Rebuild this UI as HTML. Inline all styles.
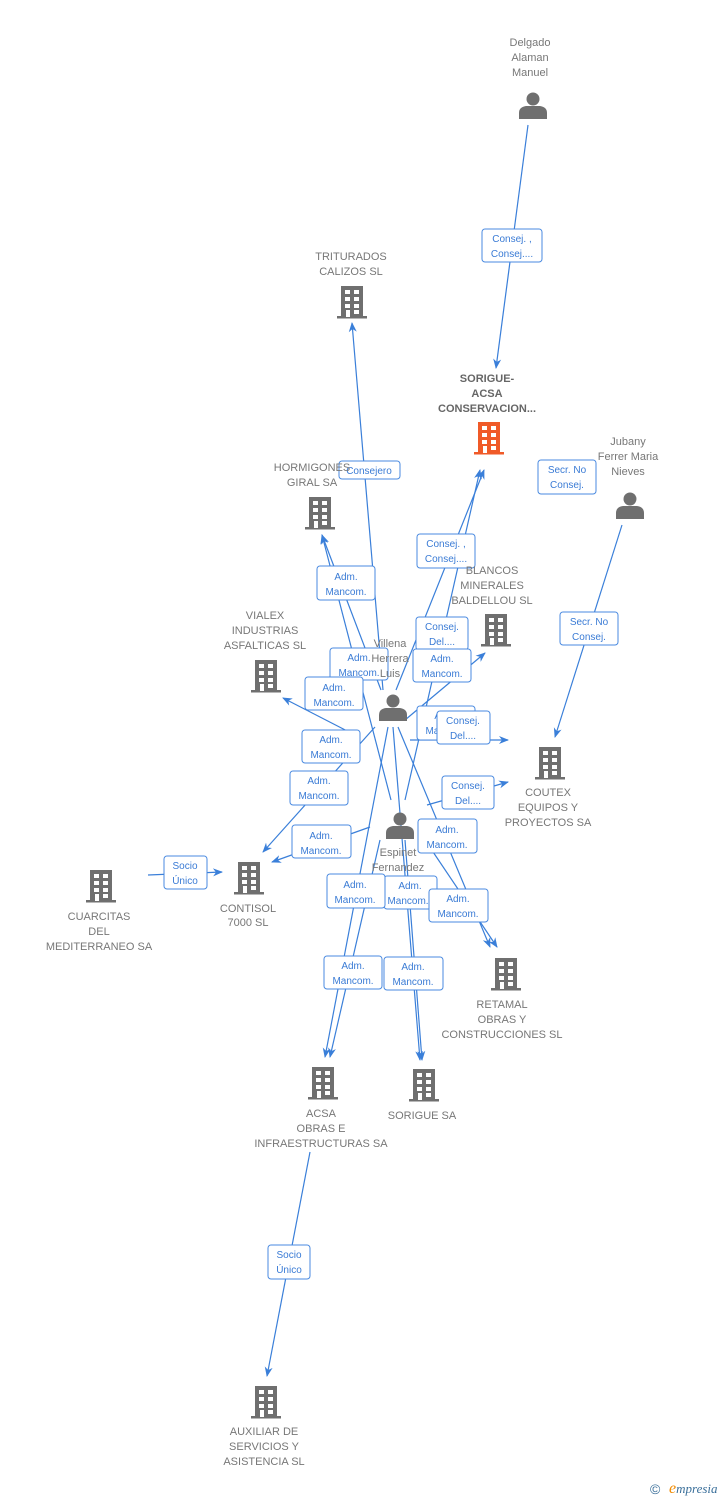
<!DOCTYPE html>
<html><head><meta charset="utf-8"><style>
html,body{margin:0;padding:0;background:#fff;}
svg{display:block;}
.t{font-family:"Liberation Sans",sans-serif;font-size:11px;fill:#777;text-anchor:middle;}
.b{font-weight:bold;fill:#666;}
.l{font-family:"Liberation Sans",sans-serif;font-size:10px;fill:#3a7bd5;text-anchor:middle;}
.e{stroke:#3a7fd9;stroke-width:1.2;fill:none;}
.bx{fill:#fff;stroke:#4a8ae0;stroke-width:1;}
</style></head><body>
<svg width="728" height="1500" viewBox="0 0 728 1500" xmlns="http://www.w3.org/2000/svg">
<defs>
<marker id="a" markerWidth="10" markerHeight="10" refX="9" refY="5" orient="auto" markerUnits="userSpaceOnUse">
<path d="M0,1 L10,5 L0,9 L3,5 z" fill="#3a7fd9"/></marker>
<g id="bld">
<rect x="-11" y="-16" width="22" height="31" fill="#6f6f6f"/>
<rect x="-15" y="14" width="30" height="2.5" fill="#6f6f6f"/>
<rect x="-7" y="-12" width="5" height="4" fill="#fff"/><rect x="2" y="-12" width="5" height="4" fill="#fff"/>
<rect x="-7" y="-5" width="5" height="4" fill="#fff"/><rect x="2" y="-5" width="5" height="4" fill="#fff"/>
<rect x="-7" y="2" width="5" height="4" fill="#fff"/><rect x="2" y="2" width="5" height="4" fill="#fff"/>
<rect x="-6" y="8" width="4" height="7" fill="#fff"/><rect x="2" y="8" width="5" height="4" fill="#fff"/>
</g>
<g id="per">
<circle cx="0" cy="-6" r="6.5" fill="#6f6f6f"/>
<path d="M-14,14 L-14,8 Q-14,2 -7,1 L7,1 Q14,2 14,8 L14,14 z" fill="#6f6f6f"/>
</g>
</defs>

<!-- edges -->
<path class="e" d="M528,125 L496,368" marker-end="url(#a)"/>
<path class="e" d="M383,690 L352,323" marker-end="url(#a)"/>
<path class="e" d="M622,525 L555,737" marker-end="url(#a)"/>
<path class="e" d="M405,800 L480,470" marker-end="url(#a)"/>
<path class="e" d="M396,690 L484,470" marker-end="url(#a)"/>
<path class="e" d="M381,690 L322,535" marker-end="url(#a)"/>
<path class="e" d="M391,800 L322,535" marker-end="url(#a)"/>
<path class="e" d="M405,720 L485,653" marker-end="url(#a)"/>
<path class="e" d="M355,735 L283,698" marker-end="url(#a)"/>
<path class="e" d="M375,727 L263,852" marker-end="url(#a)"/>
<path class="e" d="M370,827 L272,862" marker-end="url(#a)"/>
<path class="e" d="M410,740 L508,740" marker-end="url(#a)"/>
<path class="e" d="M427,805 L508,782" marker-end="url(#a)"/>
<path class="e" d="M398,727 L490,947" marker-end="url(#a)"/>
<path class="e" d="M425,840 L497,947" marker-end="url(#a)"/>
<path class="e" d="M388,727 L325,1057" marker-end="url(#a)"/>
<path class="e" d="M380,840 L330,1057" marker-end="url(#a)"/>
<path class="e" d="M393,727 L420,1060" marker-end="url(#a)"/>
<path class="e" d="M405,840 L422,1060" marker-end="url(#a)"/>
<path class="e" d="M148,875 L222,872" marker-end="url(#a)"/>
<path class="e" d="M310,1152 L267,1376" marker-end="url(#a)"/>

<!-- label boxes -->
<g>
<rect class="bx" x="482" y="229" width="60" height="33" rx="3"/><text class="l" x="512" y="242">Consej. ,</text><text class="l" x="512" y="257">Consej....</text>
<rect class="bx" x="339" y="461" width="61" height="18" rx="3"/><text class="l" x="369" y="474">Consejero</text>
<rect class="bx" x="538" y="460" width="58" height="34" rx="3"/><text class="l" x="567" y="473">Secr.  No</text><text class="l" x="567" y="488">Consej.</text>
<rect class="bx" x="560" y="612" width="58" height="33" rx="3"/><text class="l" x="589" y="625">Secr.  No</text><text class="l" x="589" y="640">Consej.</text>
<rect class="bx" x="417" y="534" width="58" height="34" rx="3"/><text class="l" x="446" y="547">Consej. ,</text><text class="l" x="446" y="562">Consej....</text>
<rect class="bx" x="317" y="566" width="58" height="34" rx="3"/><text class="l" x="346" y="580">Adm.</text><text class="l" x="346" y="595">Mancom.</text>
<rect class="bx" x="416" y="617" width="52" height="33" rx="3"/><text class="l" x="442" y="630">Consej.</text><text class="l" x="442" y="645">Del....</text>
<rect class="bx" x="330" y="648" width="58" height="32" rx="3"/><text class="l" x="359" y="661">Adm.</text><text class="l" x="359" y="676">Mancom.</text>
<rect class="bx" x="413" y="649" width="58" height="33" rx="3"/><text class="l" x="442" y="662">Adm.</text><text class="l" x="442" y="677">Mancom.</text>
<rect class="bx" x="305" y="677" width="58" height="33" rx="3"/><text class="l" x="334" y="691">Adm.</text><text class="l" x="334" y="706">Mancom.</text>
<rect class="bx" x="417" y="706" width="58" height="34" rx="3"/><text class="l" x="446" y="719">Adm.</text><text class="l" x="446" y="734">Mancom.</text>
<rect class="bx" x="437" y="711" width="53" height="33" rx="3"/><text class="l" x="463" y="724">Consej.</text><text class="l" x="463" y="739">Del....</text>
<rect class="bx" x="302" y="730" width="58" height="33" rx="3"/><text class="l" x="331" y="743">Adm.</text><text class="l" x="331" y="758">Mancom.</text>
<rect class="bx" x="290" y="771" width="58" height="34" rx="3"/><text class="l" x="319" y="784">Adm.</text><text class="l" x="319" y="799">Mancom.</text>
<rect class="bx" x="442" y="776" width="52" height="33" rx="3"/><text class="l" x="468" y="789">Consej.</text><text class="l" x="468" y="804">Del....</text>
<rect class="bx" x="418" y="819" width="59" height="34" rx="3"/><text class="l" x="447" y="833">Adm.</text><text class="l" x="447" y="848">Mancom.</text>
<rect class="bx" x="292" y="825" width="59" height="33" rx="3"/><text class="l" x="321" y="839">Adm.</text><text class="l" x="321" y="854">Mancom.</text>
<rect class="bx" x="384" y="876" width="53" height="33" rx="3"/><text class="l" x="410" y="889">Adm.</text><text class="l" x="408" y="904">Mancom.</text>
<rect class="bx" x="327" y="874" width="58" height="34" rx="3"/><text class="l" x="355" y="888">Adm.</text><text class="l" x="355" y="903">Mancom.</text>
<rect class="bx" x="429" y="889" width="59" height="33" rx="3"/><text class="l" x="458" y="902">Adm.</text><text class="l" x="458" y="917">Mancom.</text>
<rect class="bx" x="324" y="956" width="58" height="33" rx="3"/><text class="l" x="353" y="969">Adm.</text><text class="l" x="353" y="984">Mancom.</text>
<rect class="bx" x="384" y="957" width="59" height="33" rx="3"/><text class="l" x="413" y="970">Adm.</text><text class="l" x="413" y="985">Mancom.</text>
<rect class="bx" x="164" y="856" width="43" height="33" rx="3"/><text class="l" x="185" y="869">Socio</text><text class="l" x="185" y="884">Único</text>
<rect class="bx" x="268" y="1245" width="42" height="34" rx="3"/><text class="l" x="289" y="1258">Socio</text><text class="l" x="289" y="1273">Único</text>
</g>

<!-- nodes -->
<use href="#per" x="533" y="105"/>
<text class="t" x="530" y="46">Delgado</text><text class="t" x="530" y="61">Alaman</text><text class="t" x="530" y="76">Manuel</text>

<use href="#bld" x="352" y="302"/>
<text class="t" x="351" y="260">TRITURADOS</text><text class="t" x="351" y="275">CALIZOS SL</text>

<g transform="translate(489,438)"><rect x="-11" y="-16" width="22" height="31" fill="#f05a28"/><rect x="-15" y="14" width="30" height="2.5" fill="#f05a28"/>
<rect x="-7" y="-12" width="5" height="4" fill="#fff"/><rect x="2" y="-12" width="5" height="4" fill="#fff"/><rect x="-7" y="-5" width="5" height="4" fill="#fff"/><rect x="2" y="-5" width="5" height="4" fill="#fff"/><rect x="-7" y="2" width="5" height="4" fill="#fff"/><rect x="2" y="2" width="5" height="4" fill="#fff"/><rect x="-6" y="8" width="4" height="7" fill="#fff"/><rect x="2" y="8" width="5" height="4" fill="#fff"/></g>
<text class="t b" x="487" y="382">SORIGUE-</text><text class="t b" x="487" y="397">ACSA</text><text class="t b" x="487" y="412">CONSERVACION...</text>

<use href="#bld" x="320" y="513"/>
<text class="t" x="312" y="471">HORMIGONES</text><text class="t" x="312" y="486">GIRAL SA</text>

<use href="#per" x="630" y="505"/>
<text class="t" x="628" y="445">Jubany</text><text class="t" x="628" y="460">Ferrer Maria</text><text class="t" x="628" y="475">Nieves</text>

<use href="#bld" x="496" y="630"/>
<text class="t" x="492" y="574">BLANCOS</text><text class="t" x="492" y="589">MINERALES</text><text class="t" x="492" y="604">BALDELLOU SL</text>

<use href="#bld" x="266" y="676"/>
<text class="t" x="265" y="619">VIALEX</text><text class="t" x="265" y="634">INDUSTRIAS</text><text class="t" x="265" y="649">ASFALTICAS SL</text>

<use href="#per" x="393" y="707"/>
<text class="t" x="390" y="647">Villena</text><text class="t" x="390" y="662">Herrera</text><text class="t" x="390" y="677">Luis</text>

<use href="#bld" x="550" y="763"/>
<text class="t" x="548" y="796">COUTEX</text><text class="t" x="548" y="811">EQUIPOS Y</text><text class="t" x="548" y="826">PROYECTOS SA</text>

<use href="#per" x="400" y="825"/>
<text class="t" x="398" y="856">Espinet</text><text class="t" x="398" y="871">Fernandez</text>

<use href="#bld" x="249" y="878"/>
<text class="t" x="248" y="912">CONTISOL</text><text class="t" x="248" y="926">7000 SL</text>

<use href="#bld" x="101" y="886"/>
<text class="t" x="99" y="920">CUARCITAS</text><text class="t" x="99" y="935">DEL</text><text class="t" x="99" y="950">MEDITERRANEO SA</text>

<use href="#bld" x="506" y="974"/>
<text class="t" x="502" y="1008">RETAMAL</text><text class="t" x="502" y="1023">OBRAS Y</text><text class="t" x="502" y="1038">CONSTRUCCIONES SL</text>

<use href="#bld" x="323" y="1083"/>
<text class="t" x="321" y="1117">ACSA</text><text class="t" x="321" y="1132">OBRAS E</text><text class="t" x="321" y="1147">INFRAESTRUCTURAS SA</text>

<use href="#bld" x="424" y="1085"/>
<text class="t" x="422" y="1119">SORIGUE SA</text>

<use href="#bld" x="266" y="1402"/>
<text class="t" x="264" y="1435">AUXILIAR DE</text><text class="t" x="264" y="1450">SERVICIOS Y</text><text class="t" x="264" y="1465">ASISTENCIA SL</text>

<text x="650" y="1494" style="font-family:'Liberation Sans',sans-serif;font-size:14px;fill:#3a6f9a">©</text>
<text x="669" y="1493" style="font-family:'Liberation Serif',serif;font-size:13px;font-style:italic;fill:#3a6f9a"><tspan fill="#f08a00" font-size="16">e</tspan>mpresia</text>
</svg>
</body></html>
